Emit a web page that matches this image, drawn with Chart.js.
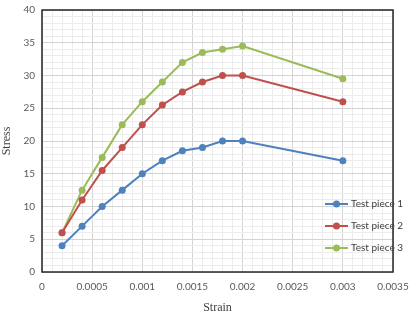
<!DOCTYPE html>
<html>
<head>
<meta charset="utf-8">
<script src="https://cdn.jsdelivr.net/npm/chart.js@4"></script>
<style>
  html, body { margin: 0; padding: 0; background: #fff; }
  #wrap { width: 412px; height: 315px; }
</style>
</head>
<body>
<div id="wrap"><canvas id="stress"></canvas></div>
<script>
// strain values (x) and stress for each test piece
const strain = [0.0002, 0.0004, 0.0006, 0.0008, 0.001, 0.0012, 0.0014, 0.0016, 0.0018, 0.002, 0.003];
const piece1 = [4, 7, 10, 12.5, 15, 17, 18.5, 19, 20, 20, 17];
const piece2 = [6, 11, 15.5, 19, 22.5, 25.5, 27.5, 29, 30, 30, 26];
const piece3 = [6, 12.5, 17.5, 22.5, 26, 29, 32, 33.5, 34, 34.5, 29.5];
const names = ['Test piece 1', 'Test piece 2', 'Test piece 3'];
const colors = ['#4F81BD', '#C0504D', '#9BBB59'];

const tickFont = { family: 'Lato, "Liberation Sans", sans-serif', size: 10 };
const titleFont = { family: '"Liberation Serif", serif', size: 12 };

function pts(ys) {
    var out = [];
    for (var i = 0; i < strain.length; i++) {
        out.push({ x: strain[i], y: ys[i] });
    }
    return out;
}

var series = [piece1, piece2, piece3];
var datasets = [];
for (var k = 0; k < 3; k++) {
    datasets.push({
        label: names[k],
        data: pts(series[k]),
        borderColor: colors[k],
        backgroundColor: colors[k],
        borderWidth: 2,
        pointRadius: 3.5,
        pointBorderWidth: 0,
        tension: 0
    });
}

// every 5th line is a major one, the rest are minor
function gridColor(ctx) {
    return ctx.index % 5 === 0 ? '#d4d4d4' : '#ececec';
}

// box around the plot plus a legend inside it
const frame = {
    id: 'frame',
    afterDraw(chart) {
        const a = chart.chartArea;
        const c = chart.ctx;
        c.save();
        c.strokeStyle = '#262626';
        c.lineWidth = 1.5;
        c.strokeRect(a.left, a.top, a.right - a.left, a.bottom - a.top);

        c.font = '10px ' + tickFont.family;
        c.textBaseline = 'middle';
        for (var i = 0; i < names.length; i++) {
            var y = a.bottom - 68 + i * 22;
            var x0 = a.right - 68;
            c.strokeStyle = colors[i];
            c.lineWidth = 2;
            c.beginPath();
            c.moveTo(x0, y);
            c.lineTo(x0 + 23, y);
            c.stroke();
            c.fillStyle = colors[i];
            c.beginPath();
            c.arc(x0 + 11.5, y, 3.5, 0, Math.PI * 2);
            c.fill();
            c.fillStyle = '#404040';
            c.fillText(names[i], x0 + 26, y);
        }
        c.restore();
    }
};

const config = {
    type: 'line',
    data: { datasets: datasets },
    options: {
        responsive: true,
        maintainAspectRatio: false,
        animation: false,
        layout: { padding: { top: 10, right: 19, left: 0, bottom: 0 } },
        plugins: {
            legend: { display: false },
            tooltip: { enabled: false }
        },
        scales: {
            x: {
                type: 'linear',
                min: 0,
                max: 0.0035,
                border: { display: false },
                grid: { color: gridColor, lineWidth: 1, drawTicks: false },
                ticks: {
                    stepSize: 0.0001,
                    autoSkip: false,
                    maxRotation: 0,
                    padding: 9,
                    color: '#595959',
                    font: tickFont,
                    callback: function (v, i) {
                        if (i % 5 !== 0) return '';
                        return String(+v.toFixed(4));
                    }
                },
                title: { display: true, text: 'Strain', color: '#404040', font: titleFont, padding: { top: 4, bottom: 0 } },
                afterFit: function (s) { s.height = 43; s.paddingLeft = 0; s.paddingRight = 0; }
            },
            y: {
                min: 0,
                max: 40,
                border: { display: false },
                grid: { color: gridColor, lineWidth: 1, drawTicks: false },
                ticks: {
                    stepSize: 1,
                    autoSkip: false,
                    padding: 7,
                    color: '#595959',
                    font: tickFont,
                    callback: function (v, i) {
                        return i % 5 === 0 ? String(v) : '';
                    }
                },
                title: { display: true, text: 'Stress', color: '#404040', font: titleFont, padding: { top: 0, bottom: 2 } },
                afterFit: function (s) { s.width = 42; s.paddingTop = 0; s.paddingBottom = 0; }
            }
        }
    },
    plugins: [frame]
};

var ctx = document.getElementById('stress').getContext('2d');
var chart = new Chart(ctx, config);
</script>
</body>
</html>
